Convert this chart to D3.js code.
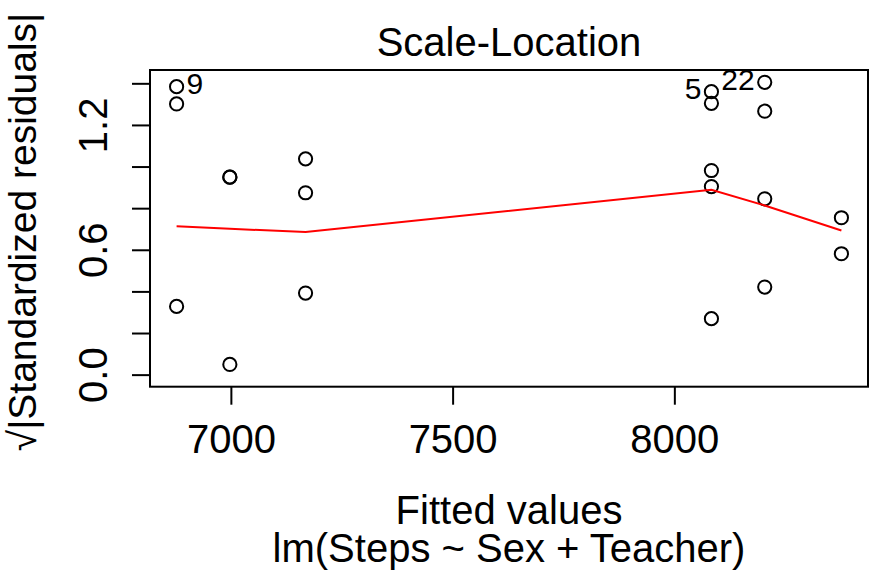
<!DOCTYPE html>
<html>
<head>
<meta charset="utf-8">
<script src="https://cdn.jsdelivr.net/npm/d3@7"></script>
<style>
  body { margin: 0; background: #fff; }
  svg { display: block; }
  text { font-family: "Liberation Sans", Arial, Helvetica, sans-serif; fill: #000; }
</style>
</head>
<body>
<svg id="chart"></svg>
<script>
// fitted values and sqrt(|standardized residuals|)
var fittedValues = [6877.6, 6877.6, 6877.6, 6997.7, 6997.7, 6997.7, 7168.4, 7168.4, 7168.4,
  8083.6, 8083.6, 8083.6, 8083.6, 8083.6, 8203.8, 8203.8, 8203.8, 8203.8, 8376.7, 8376.7]
var sqrtStdResid = [1.384, 1.301, 0.328, 0.949, 0.949, 0.049, 1.037, 0.874, 0.392,
  1.360, 1.304, 0.981, 0.904, 0.269, 1.405, 1.266, 0.845, 0.421, 0.754, 0.581]

// smoother (red line)
var smoothX = [6877.6, 6997.7, 7168.4, 8083.6, 8203.8, 8376.7]
var smoothY = [0.713, 0.701, 0.685, 0.888, 0.813, 0.693]

// labelled observations: index into the arrays above, label, side
var idPoints = [0, 9, 14]
var idLabels = ['9', '5', '22']
var idSide = ['right', 'left', 'left']

var xTicks = [7000, 7500, 8000]
var yTicks = [0, 0.2, 0.4, 0.6, 0.8, 1.0, 1.2, 1.4]
var yTickLabels = { '0': '0.0', '0.6': '0.6', '1.2': '1.2' }

var title = 'Scale-Location'
var xLabel = ['Fitted values', 'lm(Steps ~ Sex + Teacher)']
var yLabel = '\u221A|Standardized residuals|'

var width = 879, height = 574
var box = { left: 150, right: 868, top: 70, bottom: 386.7 }
var fontSize = 40

var svg = d3.select('#chart').attr('width', width).attr('height', height)

// R style 4% padding on the x range
var xMin = d3.min(fittedValues), xMax = d3.max(fittedValues)
var xPad = (xMax - xMin) * 0.04
var x = d3.scaleLinear().domain([xMin - xPad, xMax + xPad]).range([box.left, box.right])
var y = d3.scaleLinear().domain([-0.058, 1.464]).range([box.bottom, box.top])

// x axis
var xAxis = svg.append('g')
  .attr('transform', 'translate(0,' + box.bottom + ')')
  .call(d3.axisBottom(x).tickValues(xTicks).tickSize(18).tickSizeOuter(0).tickFormat(d3.format('d')))
xAxis.select('.domain').remove()
xAxis.selectAll('line').attr('stroke', '#000').attr('stroke-width', 2)
xAxis.selectAll('text')
  .attr('y', 66).attr('dy', null)
  .attr('font-size', fontSize)
  .style('font-family', '"Liberation Sans", Arial, Helvetica, sans-serif')
  .attr('fill', '#000')

// y axis, labels rotated like base R
var yAxis = svg.append('g')
  .attr('transform', 'translate(' + box.left + ',0)')
  .call(d3.axisLeft(y).tickValues(yTicks).tickSize(18).tickSizeOuter(0)
    .tickFormat(function (d) { return yTickLabels[String(+d.toFixed(1))] || '' }))
yAxis.select('.domain').remove()
yAxis.selectAll('line').attr('stroke', '#000').attr('stroke-width', 2)
yAxis.selectAll('text')
  .attr('x', null).attr('dy', null)
  .attr('text-anchor', 'middle')
  .attr('transform', 'translate(-43,0) rotate(-90)')
  .attr('font-size', fontSize)
  .style('font-family', '"Liberation Sans", Arial, Helvetica, sans-serif')
  .attr('fill', '#000')

// plot box
svg.append('rect')
  .attr('x', box.left).attr('y', box.top)
  .attr('width', box.right - box.left).attr('height', box.bottom - box.top)
  .attr('fill', 'none').attr('stroke', '#000').attr('stroke-width', 2)

// points
svg.append('g').selectAll('circle')
  .data(fittedValues)
  .enter().append('circle')
  .attr('cx', function (d) { return x(d) })
  .attr('cy', function (d, i) { return y(sqrtStdResid[i]) })
  .attr('r', 6.6)
  .attr('fill', 'none')
  .attr('stroke', '#000')
  .attr('stroke-width', 2)

// red smoother
var line = d3.line()
  .x(function (d) { return x(d) })
  .y(function (d, i) { return y(smoothY[i]) })
svg.append('path')
  .datum(smoothX)
  .attr('d', line)
  .attr('fill', 'none')
  .attr('stroke', '#ff0000')
  .attr('stroke-width', 2)

// id labels
svg.append('g').selectAll('text')
  .data(idPoints)
  .enter().append('text')
  .attr('x', function (d, i) { return x(fittedValues[d]) + (idSide[i] === 'right' ? 10 : -10) })
  .attr('y', function (d) { return y(sqrtStdResid[d]) })
  .attr('dy', '0.26em')
  .attr('text-anchor', function (d, i) { return idSide[i] === 'right' ? 'start' : 'end' })
  .attr('font-size', fontSize * 0.75)
  .text(function (d, i) { return idLabels[i] })

// title and axis titles
svg.append('text')
  .attr('x', (box.left + box.right) / 2).attr('y', 55.5)
  .attr('text-anchor', 'middle')
  .attr('font-size', fontSize)
  .text(title)

// two line x label as one text block, like R's "\n" xlab
var xLab = svg.append('text')
  .attr('text-anchor', 'middle')
  .attr('font-size', fontSize)
xLab.selectAll('tspan')
  .data(xLabel)
  .enter().append('tspan')
  .attr('x', (box.left + box.right) / 2)
  .attr('y', function (d, i) { return 524 + i * 38 })
  .text(function (d) { return d })

svg.append('text')
  .attr('transform', 'translate(36,232) rotate(-90)')
  .attr('text-anchor', 'middle')
  .attr('font-size', 39)
  .text(yLabel)
</script>
</body>
</html>
